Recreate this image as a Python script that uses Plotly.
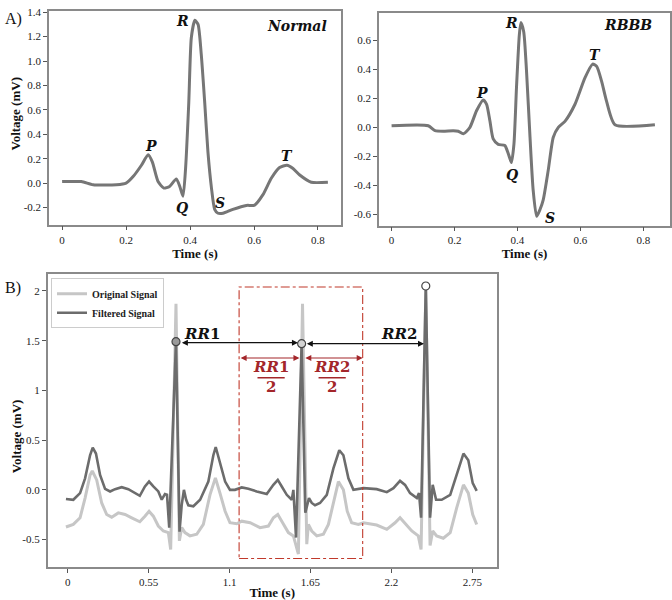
import plotly.graph_objects as go

# ---------------- data ----------------
normal_t = [0.0, 0.06, 0.097, 0.17, 0.20, 0.222, 0.248, 0.269, 0.282, 0.30, 0.318, 0.336, 0.357, 0.368,
            0.378, 0.386, 0.396, 0.404, 0.415, 0.425, 0.435, 0.446, 0.456, 0.467, 0.477, 0.4875, 0.503,
            0.534, 0.576, 0.602, 0.628, 0.654, 0.68, 0.703, 0.722, 0.743, 0.779, 0.831]
normal_v = [0.013, 0.013, -0.013, -0.013, 0.0, 0.054, 0.147, 0.233, 0.174, 0.013, -0.04, -0.027, 0.035, -0.027,
            -0.107, 0.12, 0.656, 1.19, 1.333, 1.30, 1.057, 0.656, 0.254, -0.04, -0.214, -0.246, -0.246,
            -0.214, -0.182, -0.179, -0.094, 0.04, 0.128, 0.147, 0.12, 0.067, 0.008, 0.008]

rbbb_t = [0.0, 0.1166, 0.138, 0.164, 0.196, 0.212, 0.228, 0.249, 0.27, 0.291, 0.302, 0.3125, 0.323, 0.339,
          0.36, 0.371, 0.381, 0.389, 0.397, 0.406, 0.411, 0.42, 0.429, 0.44, 0.45, 0.461, 0.4715, 0.482,
          0.498, 0.514, 0.53, 0.551, 0.583, 0.6146, 0.639, 0.652, 0.6675, 0.683, 0.71, 0.837]
rbbb_v = [0.011, 0.011, -0.023, -0.027, -0.023, -0.027, -0.045, 0.0, 0.114, 0.189, 0.159, 0.045, -0.08, -0.118,
          -0.125, -0.182, -0.243, -0.114, 0.273, 0.636, 0.723, 0.659, 0.386, -0.068, -0.432, -0.614, -0.568, -0.5,
          -0.295, -0.068, 0.0, 0.041, 0.159, 0.341, 0.436, 0.42, 0.318, 0.182, 0.018, 0.018]

wave_labels = ["P", "Q", "R", "S", "T"]
normal_lab_t = [0.279, 0.376, 0.375, 0.495, 0.703]
normal_lab_v = [0.308, -0.206, 1.325, -0.166, 0.222]
rbbb_lab_t = [0.286, 0.384, 0.381, 0.503, 0.646]
rbbb_lab_v = [0.239, -0.33, 0.716, -0.625, 0.50]

filt_t = [-0.012, 0.038, 0.084, 0.118, 0.152, 0.17, 0.192, 0.22, 0.254, 0.288, 0.322, 0.367, 0.412, 0.458,
          0.49, 0.525, 0.553, 0.582, 0.616, 0.639, 0.661, 0.675, 0.69, 0.736, 0.76, 0.775, 0.79, 0.805, 0.82,
          0.854, 0.9, 0.956, 0.99, 1.006, 1.035, 1.07, 1.103, 1.137, 1.183, 1.228, 1.285, 1.353, 1.398,
          1.428, 1.455, 1.489, 1.523, 1.534, 1.552, 1.59, 1.615, 1.64, 1.659, 1.681, 1.715, 1.761, 1.806,
          1.846, 1.874, 1.908, 1.942, 1.987, 2.01, 2.1, 2.169, 2.214, 2.259, 2.293, 2.327, 2.373, 2.388,
          2.402, 2.434, 2.463, 2.481, 2.504, 2.542, 2.6, 2.644, 2.69, 2.723, 2.753, 2.78]
filt_v = [-0.092, -0.10, -0.033, 0.116, 0.348, 0.424, 0.365, 0.149, 0.01, -0.016, 0.007, 0.027, 0.007, -0.033,
          -0.06, 0.034, 0.083, 0.034, -0.016, -0.099, -0.043, -0.05, -0.38, 1.49, -0.42, -0.15, 0.0, -0.1, -0.155,
          -0.165, -0.1, 0.083, 0.348, 0.431, 0.282, 0.083, 0.0, 0.0, 0.024, 0.01, -0.016, -0.043, 0.05,
          0.1, 0.034, -0.05, -0.1, 0.0, -0.48, 1.47, -0.23, -0.083, -0.132, -0.155, -0.132, -0.05, 0.216,
          0.398, 0.348, 0.116, 0.0, 0.01, 0.017, 0.007, -0.023, 0.017, 0.09, 0.05, -0.033, -0.083, -0.033,
          -0.28, 2.05, -0.28, 0.05, -0.1, -0.1, -0.05, 0.149, 0.365, 0.298, 0.067, -0.01]

orig_t = [-0.012, 0.038, 0.084, 0.118, 0.152, 0.167, 0.197, 0.231, 0.265, 0.299, 0.344, 0.39, 0.435, 0.49,
          0.525, 0.553, 0.582, 0.616, 0.65, 0.684, 0.70, 0.736, 0.759, 0.775, 0.797, 0.831, 0.877, 0.922,
          0.967, 1.004, 1.035, 1.07, 1.103, 1.149, 1.183, 1.24, 1.307, 1.364, 1.398, 1.428, 1.455, 1.5,
          1.534, 1.568, 1.596, 1.625, 1.636, 1.659, 1.693, 1.738, 1.772, 1.806, 1.84, 1.874, 1.9, 1.93,
          1.976, 2.01, 2.1, 2.169, 2.225, 2.259, 2.293, 2.339, 2.383, 2.402, 2.434, 2.463, 2.481, 2.508,
          2.553, 2.6, 2.644, 2.69, 2.723, 2.753, 2.78]
orig_v = [-0.374, -0.348, -0.281, -0.083, 0.149, 0.189, 0.1, -0.132, -0.248, -0.275, -0.232, -0.248, -0.281, -0.321,
          -0.265, -0.215, -0.265, -0.364, -0.414, -0.43, -0.6, 1.87, -0.513, -0.38, -0.43, -0.463, -0.447, -0.348,
          -0.05, 0.12, -0.033, -0.215, -0.331, -0.341, -0.315, -0.331, -0.38, -0.364, -0.281, -0.248, -0.315, -0.43,
          -0.463, -0.646, 1.87, -0.547, -0.348, -0.414, -0.463, -0.447, -0.348, -0.115, 0.083, 0.0, -0.215, -0.331,
          -0.348, -0.331, -0.354, -0.397, -0.331, -0.281, -0.341, -0.414, -0.463, -0.6, 2.0, -0.56, -0.414, -0.463,
          -0.487, -0.43, -0.182, 0.05, -0.033, -0.248, -0.348]

peak_t = [0.736, 1.59, 2.434]
peak_v = [1.49, 1.47, 2.05]
peak_fill = ["#9a9a9a", "#d4d4d4", "#ffffff"]

rr_arrow_y = 1.48
half_arrow_y = 1.326
win_t0, win_t1 = 1.165, 2.005
win_v0, win_v1 = -0.69, 2.04

xA_ticks = [0, 0.2, 0.4, 0.6, 0.8]
xA_text = ["0", "0.2", "0.4", "0.6", "0.8"]
yN_ticks = [-0.2, 0.0, 0.2, 0.4, 0.6, 0.8, 1.0, 1.2, 1.4]
yN_text = ["-0.2", "0.0", "0.2", "0.4", "0.6", "0.8", "1.0", "1.2", "1.4"]
yR_ticks = [-0.6, -0.4, -0.2, 0.0, 0.2, 0.4, 0.6]
yR_text = ["-0.6", "-0.4", "-0.2", "0.0", "0.2", "0.4", "0.6"]
xB_ticks = [0, 0.55, 1.1, 1.65, 2.2, 2.75]
xB_text = ["0", "0.55", "1.1", "1.65", "2.2", "2.75"]
yB_ticks = [-0.5, 0.0, 0.5, 1.0, 1.5, 2.0]
yB_text = ["-0.5", "0.0", "0.5", "1", "1.5", "2"]

# ---------------- figure ----------------
W, H = 672, 600
SERIF = "Liberation Serif"
LAB = "DejaVu Serif"
RED = "#a3262a"
ECG = "#767676"

fig = go.Figure()
fig.add_trace(go.Scatter(x=normal_t, y=normal_v, mode="lines", xaxis="x", yaxis="y",
                         line=dict(color=ECG, width=3, shape="spline", smoothing=0.6), showlegend=False))
fig.add_trace(go.Scatter(x=rbbb_t, y=rbbb_v, mode="lines", xaxis="x2", yaxis="y2",
                         line=dict(color=ECG, width=3, shape="spline", smoothing=0.6), showlegend=False))
fig.add_trace(go.Scatter(x=orig_t, y=orig_v, mode="lines", xaxis="x3", yaxis="y3", name="<b>Original Signal</b>",
                         line=dict(color="#c6c6c6", width=3)))
fig.add_trace(go.Scatter(x=filt_t, y=filt_v, mode="lines", xaxis="x3", yaxis="y3", name="<b>Filtered Signal</b>",
                         line=dict(color="#6c6c6c", width=2.6)))
fig.add_trace(go.Scatter(x=peak_t, y=peak_v, mode="markers", xaxis="x3", yaxis="y3", showlegend=False,
                         marker=dict(size=8, color=peak_fill, line=dict(color="#444444", width=1.2))))


def px_x(p):
    return p / W


def px_y(p):
    return 1 - p / H


axis_common = dict(showline=True, mirror=True, linecolor="#8a8a8a", linewidth=1.5, showgrid=False,
                   zeroline=False, ticks="outside", ticklen=4, tickcolor="#555555",
                   tickfont=dict(family=SERIF, size=11, color="#222222"))
title_font = dict(family=SERIF, size=13, color="#111111")

fig.update_layout(
    width=W, height=H, margin=dict(l=0, r=0, t=0, b=0),
    plot_bgcolor="white", paper_bgcolor="white",
    xaxis=dict(domain=[px_x(49), px_x(341)], range=[-0.041, 0.872], anchor="y",
               tickvals=xA_ticks, ticktext=xA_text,
               title=dict(text="<b>Time (s)</b>", font=title_font, standoff=2), **axis_common),
    yaxis=dict(domain=[px_y(222.7), px_y(6)], range=[-0.34, 1.41], anchor="x",
               tickvals=yN_ticks, ticktext=yN_text, **axis_common),
    xaxis2=dict(domain=[px_x(379), px_x(670)], range=[-0.04, 0.885], anchor="y2",
                tickvals=xA_ticks, ticktext=xA_text,
                title=dict(text="<b>Time (s)</b>", font=title_font, standoff=2), **axis_common),
    yaxis2=dict(domain=[px_y(223.5), px_y(8)], range=[-0.677, 0.789], anchor="x2",
                tickvals=yR_ticks, ticktext=yR_text, **axis_common),
    xaxis3=dict(domain=[px_x(47.7), px_x(496.7)], range=[-0.136, 2.916], anchor="y3",
                tickvals=xB_ticks, ticktext=xB_text,
                title=dict(text="<b>Time (s)</b>", font=title_font, standoff=3), **axis_common),
    yaxis3=dict(domain=[px_y(570), px_y(272.7)], range=[-0.78, 2.17], anchor="x3",
                tickvals=yB_ticks, ticktext=yB_text, **axis_common),
    legend=dict(x=px_x(51), y=px_y(277), xanchor="left", yanchor="top",
                bgcolor="rgba(255,255,255,0.9)", bordercolor="#cccccc", borderwidth=1,
                font=dict(family=SERIF, size=10, color="#222222"), tracegroupgap=0,
                itemwidth=30),
)

ann = []
ann.append(dict(text="<b>Voltage (mV)</b>", x=px_x(16), y=px_y(110), xref="paper", yref="paper",
                xanchor="center", yanchor="middle",
                textangle=-90, showarrow=False, font=title_font))
ann.append(dict(text="<b>Voltage (mV)</b>", x=px_x(16), y=px_y(437), xref="paper", yref="paper",
                xanchor="center", yanchor="middle",
                textangle=-90, showarrow=False, font=title_font))
ann.append(dict(text="A)", x=px_x(3), y=px_y(14), xref="paper", yref="paper", xanchor="left",
                yanchor="middle", showarrow=False, font=dict(family=SERIF, size=16, color="#111111")))
ann.append(dict(text="B)", x=px_x(3), y=px_y(287), xref="paper", yref="paper", xanchor="left",
                yanchor="middle", showarrow=False, font=dict(family=SERIF, size=16, color="#111111")))

lab_font = dict(family=LAB, size=14, color="#111111")
for lab, t, v in zip(wave_labels, normal_lab_t, normal_lab_v):
    ann.append(dict(text=f"<b><i>{lab}</i></b>", x=t, y=v, xref="x", yref="y", showarrow=False, font=lab_font))
for lab, t, v in zip(wave_labels, rbbb_lab_t, rbbb_lab_v):
    ann.append(dict(text=f"<b><i>{lab}</i></b>", x=t, y=v, xref="x2", yref="y2", showarrow=False, font=lab_font))
ann.append(dict(text="<b><i>Normal</i></b>", x=0.835, y=1.29, xref="x", yref="y", xanchor="right",
                showarrow=False, font=dict(family=LAB, size=14, color="#111111")))
ann.append(dict(text="<b><i>RBBB</i></b>", x=0.835, y=0.705, xref="x2", yref="y2", xanchor="right",
                showarrow=False, font=dict(family=LAB, size=14, color="#111111")))


def dbl_arrow(x0, x1, y, color, width=1.2):
    return dict(x=x1, y=y, ax=x0, ay=y, xref="x3", yref="y3", axref="x3", ayref="y3", text="",
                showarrow=True, arrowhead=2, startarrowhead=2, arrowside="end+start",
                arrowsize=1, startarrowsize=1, arrowwidth=width, arrowcolor=color)


ann.append(dbl_arrow(peak_t[0] + 0.03, peak_t[1] - 0.025, rr_arrow_y, "#111111"))
ann.append(dbl_arrow(peak_t[1] + 0.025, peak_t[2] - 0.012, rr_arrow_y - 0.01, "#111111"))
ann.append(dbl_arrow(win_t0, peak_t[1] - 0.015, half_arrow_y, RED))
ann.append(dbl_arrow(peak_t[1] + 0.015, win_t1, half_arrow_y, RED))

rr_font = dict(family=LAB, size=15, color="#111111")
ann.append(dict(text="<b><i>RR</i>1</b>", x=0.91, y=1.565, xref="x3", yref="y3", showarrow=False, font=rr_font))
ann.append(dict(text="<b><i>RR</i>2</b>", x=2.25, y=1.565, xref="x3", yref="y3", showarrow=False, font=rr_font))
red_font = dict(family=LAB, size=15, color=RED)
for cx, n in [(1.38, "1"), (1.795, "2")]:
    ann.append(dict(text=f"<b><i>RR</i>{n}</b>", x=cx, y=1.235, xref="x3", yref="y3", showarrow=False, font=red_font))
    ann.append(dict(text="<b>2</b>", x=cx, y=1.03, xref="x3", yref="y3", showarrow=False, font=red_font))

fig.update_layout(annotations=ann)

shapes = [
    dict(type="rect", xref="x3", yref="y3", x0=win_t0, x1=win_t1, y0=win_v0, y1=win_v1,
         line=dict(color="#c0392b", width=1.1, dash="dashdot")),
    dict(type="line", xref="x3", yref="y3", x0=1.29, x1=1.475, y0=1.127, y1=1.127,
         line=dict(color=RED, width=1.5)),
    dict(type="line", xref="x3", yref="y3", x0=1.705, x1=1.89, y0=1.127, y1=1.127,
         line=dict(color=RED, width=1.5)),
]
fig.update_layout(shapes=shapes)

fig.write_html("out.html", config={"displayModeBar": False},
               post_script="document.body.style.margin='0';document.body.style.overflow='hidden';")
